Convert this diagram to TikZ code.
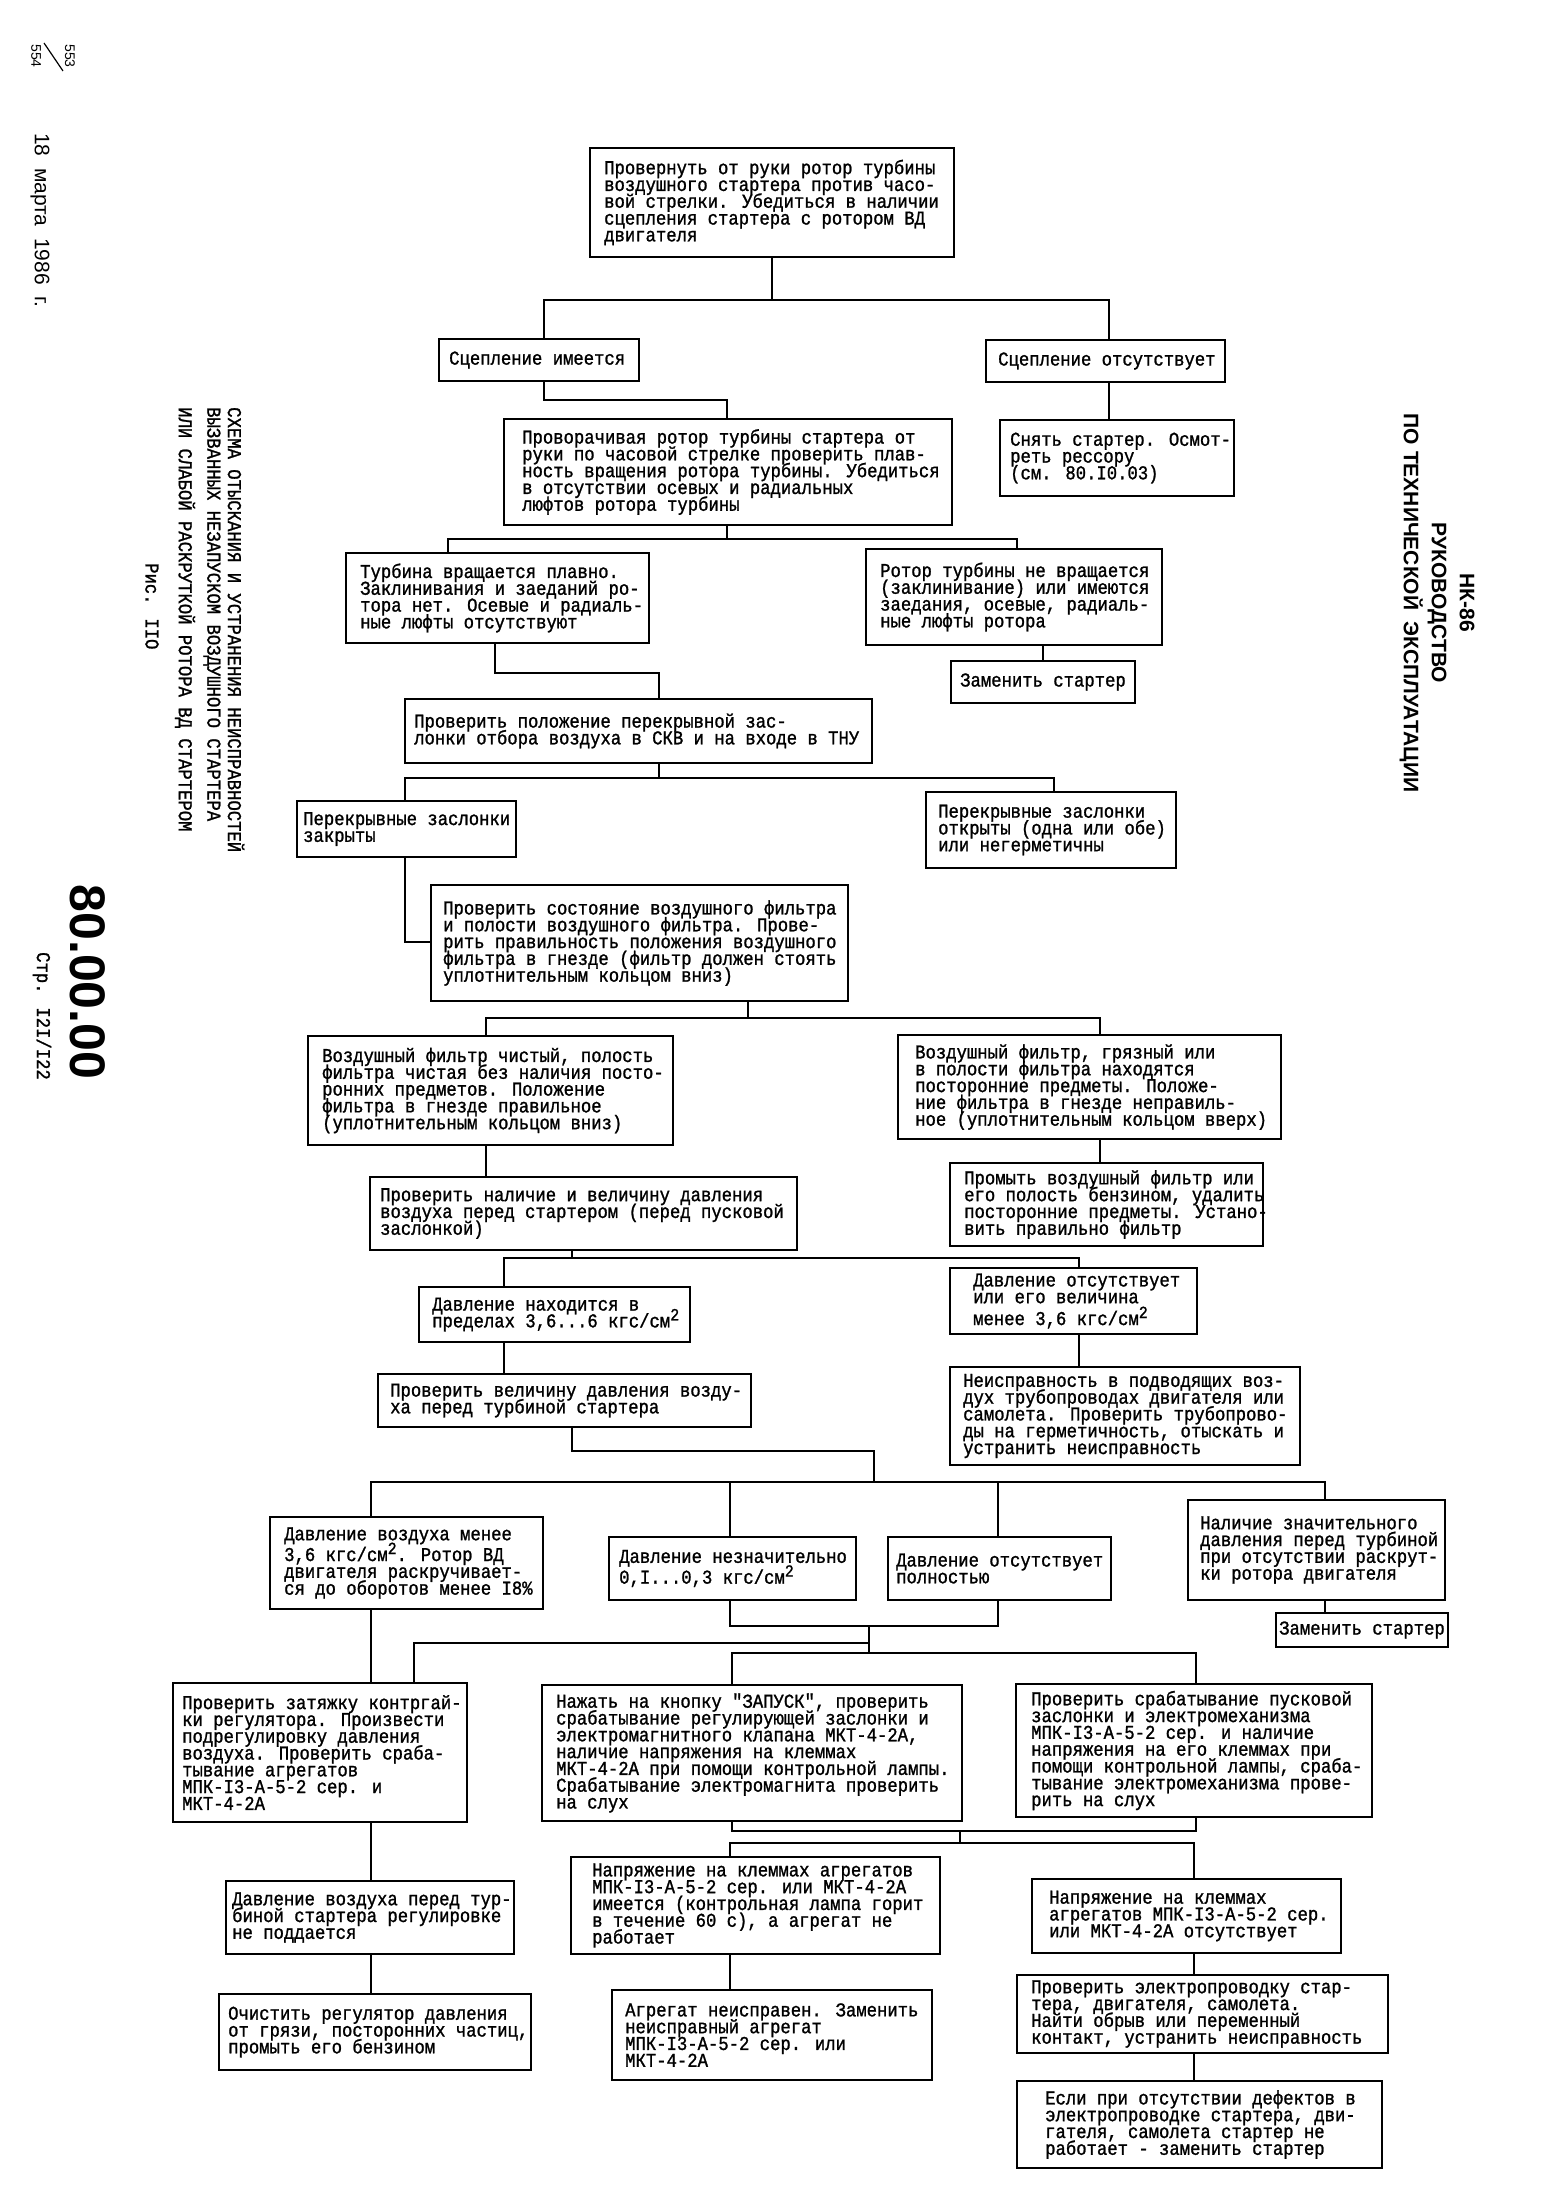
\documentclass[tikz,border=0pt]{standalone}
\usepackage{fontspec}
\setmainfont{Liberation Serif}
\newfontfamily\twfont[FakeStretch=0.88,FakeBold=1.2,Ligatures=TeXOff]{Liberation Mono}
\newfontfamily\hsfont{Liberation Sans}
\newcommand\boxfont{\twfont\fontsize{19.6}{16.8}\selectfont\lineskiplimit=-100pt\relax}
\newcommand\sqr{\raisebox{7pt}{\fontsize{17}{17}\selectfont 2}}
\tikzset{
  bx/.style={draw, line width=2.2pt, outer sep=0pt, inner sep=0pt, anchor=north west},
  tx/.style={align=left, font=\boxfont, inner sep=0pt, anchor=west},
  ln/.style={line width=2pt, line cap=rect},
  side/.style={rotate=-90, inner sep=0pt},
}
\newcommand\mybox[7]{%
  \pgfmathsetmacro\bxw{#4-#2}%
  \pgfmathsetmacro\bxh{#5-#3}%
  \node[bx, minimum width=\bxw pt, minimum height=\bxh pt] (#1) at (#2,#3) {};
  \node[tx] (#1t) at ([xshift=#6pt]#1.west) {#7};}
\begin{document}
\begin{tikzpicture}[x=1pt,y=-1pt]
\useasboundingbox (0,0) rectangle (1553,2207);
\fill[white] (0,0) rectangle (1553,2207);

% ---------- side texts ----------
\node[side, font=\hsfont\fontsize{14}{14}\selectfont] (p553) at (70,56) {553};
\node[side, font=\hsfont\fontsize{14}{14}\selectfont] (p554) at (36,56) {554};
\draw[line width=1.2pt] (44,43) -- (63,71);
\node[side, anchor=west, font=\hsfont\fontsize{21}{21}\selectfont] (date) at (40,133) {18\ \ марта\ \ 1986\ \ г.};
\node[side, anchor=west, font=\boxfont] (cap1) at (236,407) {СХЕМА ОТЫСКАНИЯ И УСТРАНЕНИЯ НЕИСПРАВНОСТЕЙ};
\node[side, anchor=west, font=\boxfont] (cap2) at (212,407) {ВЫЗВАННЫХ НЕЗАПУСКОМ ВОЗДУШНОГО СТАРТЕРА};
\node[side, anchor=west, font=\boxfont] (cap3) at (185,407) {ИЛИ СЛАБОЙ РАСКРУТКОЙ РОТОРА ВД СТАРТЕРОМ};
\node[side, anchor=west, font=\boxfont] (fig) at (152,563) {Рис. IIO};
\node[side, font=\hsfont\bfseries\fontsize{50}{50}\selectfont] (num) at (88,982) {80.00.00};
\node[side, font=\boxfont] (page) at (42,1016) {Стр. I2I/I22};
\node[side, align=center, font=\hsfont\bfseries\fontsize{21}{28}\selectfont] (head) at (1437,603)
  {НК-86\\РУКОВОДСТВО\\ПО ТЕХНИЧЕСКОЙ\ \ ЭКСПЛУАТАЦИИ};

% ---------- boxes ----------
\mybox{T1}{590}{148}{954}{257}{14}{Провернуть от руки ротор турбины\\воздушного стартера против часо-\\вой стрелки. Убедиться в наличии\\сцепления стартера с ротором ВД\\двигателя}
\mybox{A1}{439}{339}{639}{381}{10}{Сцепление имеется}
\mybox{A2}{986}{340}{1225}{382}{12}{Сцепление отсутствует}
\mybox{B1}{504}{419}{952}{525}{18}{Проворачивая ротор турбины стартера от\\руки по часовой стрелке проверить плав-\\ность вращения ротора турбины. Убедиться\\в отсутствии осевых и радиальных\\люфтов ротора турбины}
\mybox{C2}{1000}{420}{1234}{496}{10}{Снять стартер. Осмот-\\реть рессору\\(см. 80.I0.03)}
\mybox{B2L}{346}{553}{649}{643}{14}{Турбина вращается плавно.\\Заклинивания и заеданий ро-\\тора нет. Осевые и радиаль-\\ные люфты отсутствуют}
\mybox{B2R}{866}{549}{1162}{645}{14}{Ротор турбины не вращается\\(заклинивание) или имеются\\заедания, осевые, радиаль-\\ные люфты ротора}
\mybox{Z1}{951}{661}{1135}{703}{9}{Заменить стартер}
\mybox{D1}{405}{699}{872}{763}{9}{Проверить положение перекрывной зас-\\лонки отбора воздуха в СКВ и на входе в ТНУ}
\mybox{E1}{297}{801}{516}{857}{6}{Перекрывные заслонки\\закрыты}
\mybox{E2}{926}{792}{1176}{868}{12}{Перекрывные заслонки\\открыты (одна или обе)\\или негерметичны}
\mybox{D2}{431}{885}{848}{1001}{12}{Проверить состояние воздушного фильтра\\и полости воздушного фильтра. Прове-\\рить правильность положения воздушного\\фильтра в гнезде (фильтр должен стоять\\уплотнительным кольцом вниз)}
\mybox{F1}{308}{1036}{673}{1145}{14}{Воздушный фильтр чистый, полость\\фильтра чистая без наличия посто-\\ронних предметов. Положение\\фильтра в гнезде правильное\\(уплотнительным кольцом вниз)}
\mybox{F2}{898}{1035}{1281}{1139}{17}{Воздушный фильтр, грязный или\\в полости фильтра находятся\\посторонние предметы. Положе-\\ние фильтра в гнезде неправиль-\\ное (уплотнительным кольцом вверх)}
\mybox{G1}{370}{1177}{797}{1250}{10}{Проверить наличие и величину давления\\воздуха перед стартером (перед пусковой\\заслонкой)}
\mybox{G2}{950}{1163}{1263}{1246}{14}{Промыть воздушный фильтр или\\его полость бензином, удалить\\посторонние предметы. Устано-\\вить правильно фильтр}
\mybox{H1}{419}{1287}{690}{1342}{13}{Давление находится в\\пределах 3,6...6 кгс/см\sqr}
\mybox{H2}{950}{1268}{1197}{1334}{23}{Давление отсутствует\\или его величина\\[5pt]менее 3,6 кгс/см\sqr}
\mybox{I1}{378}{1374}{751}{1427}{12}{Проверить величину давления возду-\\ха перед турбиной стартера}
\mybox{I2}{950}{1367}{1300}{1465}{13}{Неисправность в подводящих воз-\\дух трубопроводах двигателя или\\самолета. Проверить трубопрово-\\ды на герметичность, отыскать и\\устранить неисправность}
\mybox{J1}{270}{1517}{543}{1609}{14}{Давление воздуха менее\\[4pt]3,6 кгс/см\sqr. Ротор ВД\\двигателя раскручивает-\\ся до оборотов менее I8\%}
\mybox{J2}{609}{1537}{856}{1600}{10}{Давление незначительно\\[4pt]0,I...0,3 кгс/см\sqr}
\mybox{J3}{888}{1537}{1111}{1600}{8}{Давление отсутствует\\полностью}
\mybox{J4}{1188}{1500}{1445}{1600}{12}{Наличие значительного\\давления перед турбиной\\при отсутствии раскрут-\\ки ротора двигателя}
\mybox{Z2}{1276}{1613}{1448}{1647}{3}{Заменить стартер}
\mybox{K1}{173}{1683}{467}{1822}{9}{Проверить затяжку контргай-\\ки регулятора. Произвести\\подрегулировку давления\\воздуха. Проверить сраба-\\тывание агрегатов\\МПК-I3-А-5-2 сер. и\\МКТ-4-2А}
\mybox{K2}{542}{1685}{962}{1821}{14}{Нажать на кнопку "ЗАПУСК", проверить\\срабатывание регулирующей заслонки и\\электромагнитного клапана МКТ-4-2А,\\наличие напряжения на клеммах\\МКТ-4-2А при помощи контрольной лампы.\\Срабатывание электромагнита проверить\\на слух}
\mybox{K3}{1016}{1684}{1372}{1817}{15}{Проверить срабатывание пусковой\\заслонки и электромеханизма\\МПК-I3-А-5-2 сер. и наличие\\напряжения на его клеммах при\\помощи контрольной лампы, сраба-\\тывание электромеханизма прове-\\рить на слух}
\mybox{L1}{226}{1881}{514}{1954}{6}{Давление воздуха перед тур-\\биной стартера регулировке\\не поддается}
\mybox{L2}{571}{1857}{940}{1954}{21}{Напряжение на клеммах агрегатов\\МПК-I3-А-5-2 сер. или МКТ-4-2А\\имеется (контрольная лампа горит\\в течение 60 с), а агрегат не\\работает}
\mybox{L3}{1032}{1879}{1341}{1953}{17}{Напряжение на клеммах\\агрегатов МПК-I3-А-5-2 сер.\\или МКТ-4-2А отсутствует}
\mybox{M1}{219}{1994}{531}{2070}{9}{Очистить регулятор давления\\от грязи, посторонних частиц,\\промыть его бензином}
\mybox{M2}{612}{1990}{932}{2080}{13}{Агрегат неисправен. Заменить\\неисправный агрегат\\МПК-I3-А-5-2 сер. или\\МКТ-4-2А}
\mybox{M3}{1017}{1975}{1388}{2053}{14}{Проверить электропроводку стар-\\тера, двигателя, самолета.\\Найти обрыв или переменный\\контакт, устранить неисправность}
\mybox{N3}{1017}{2081}{1382}{2168}{28}{Если при отсутствии дефектов в\\электропроводке стартера, дви-\\гателя, самолета стартер не\\работает - заменить стартер}

% ---------- connector points ----------
\coordinate (b1) at (772,300); \coordinate (b1l) at (544,300); \coordinate (b1r) at (1109,300);
\coordinate (k1a) at (544,400); \coordinate (k1b) at (727,400);
\coordinate (b2) at (727,539); \coordinate (b2l) at (448,539); \coordinate (b2r) at (1017,539);
\coordinate (k2a) at (495,673); \coordinate (k2b) at (659,673);
\coordinate (b3) at (659,778); \coordinate (b3l) at (405,778); \coordinate (b3r) at (1054,778);
\coordinate (k3) at (405,942);
\coordinate (b4) at (748,1018); \coordinate (b4l) at (486,1018); \coordinate (b4r) at (1100,1018);
\coordinate (b5) at (572,1258); \coordinate (b5l) at (504,1258); \coordinate (b5r) at (1079,1258);
\coordinate (k4a) at (572,1451); \coordinate (k4b) at (874,1451);
\coordinate (b6l) at (371,1482); \coordinate (b6r) at (1325,1482);
\coordinate (b6a) at (730,1482); \coordinate (b6b) at (998,1482);
\coordinate (j1) at (730,1626); \coordinate (j2) at (998,1626); \coordinate (j3) at (869,1626);
\coordinate (j4) at (869,1643); \coordinate (j5) at (414,1643);
\coordinate (b7) at (869,1653); \coordinate (b7l) at (732,1653); \coordinate (b7r) at (1196,1653);
\coordinate (b8) at (960,1831); \coordinate (b8l) at (732,1831); \coordinate (b8r) at (1196,1831);
\coordinate (b9) at (960,1843); \coordinate (b9l) at (730,1843); \coordinate (b9r) at (1194,1843);

% ---------- connectors ----------
\draw[ln] (T1.south -| b1) -- (b1);
\draw[ln] (A1.north -| b1l) -- (b1l) -- (b1r) -- (A2.north -| b1r);
\draw[ln] (A1.south -| k1a) -- (k1a) -- (k1b) -- (B1.north -| k1b);
\draw[ln] (A2.south -| b1r) -- (C2.north -| b1r);
\draw[ln] (B1.south -| b2) -- (b2);
\draw[ln] (B2L.north -| b2l) -- (b2l) -- (b2r) -- (B2R.north -| b2r);
\draw[ln] (B2R.south -| Z1.north) -- (Z1.north);
\draw[ln] (B2L.south -| k2a) -- (k2a) -- (k2b) -- (D1.north -| k2b);
\draw[ln] (D1.south -| b3) -- (b3);
\draw[ln] (E1.north -| b3l) -- (b3l) -- (b3r) -- (E2.north -| b3r);
\draw[ln] (E1.south -| k3) -- (k3) -- (D2.west |- k3);
\draw[ln] (D2.south -| b4) -- (b4);
\draw[ln] (F1.north -| b4l) -- (b4l) -- (b4r) -- (F2.north -| b4r);
\draw[ln] (F1.south -| b4l) -- (G1.north -| b4l);
\draw[ln] (F2.south -| b4r) -- (G2.north -| b4r);
\draw[ln] (G1.south -| b5) -- (b5);
\draw[ln] (H1.north -| b5l) -- (b5l) -- (b5r) -- (H2.north -| b5r);
\draw[ln] (H1.south -| b5l) -- (I1.north -| b5l);
\draw[ln] (H2.south -| b5r) -- (I2.north -| b5r);
\draw[ln] (I1.south -| k4a) -- (k4a) -- (k4b) -- (k4b |- b6l);
\draw[ln] (J1.north -| b6l) -- (b6l) -- (b6r) -- (J4.north -| b6r);
\draw[ln] (b6a) -- (J2.north -| b6a);
\draw[ln] (b6b) -- (J3.north -| b6b);
\draw[ln] (J4.south -| b6r) -- (Z2.north -| b6r);
\draw[ln] (J1.south -| b6l) -- (K1.north -| b6l);
\draw[ln] (J2.south -| j1) -- (j1) -- (j2) -- (J3.south -| j2);
\draw[ln] (j3) -- (b7);
\draw[ln] (j4) -- (j5) -- (K1.north -| j5);
\draw[ln] (K2.north -| b7l) -- (b7l) -- (b7r) -- (K3.north -| b7r);
\draw[ln] (K1.south -| b6l) -- (L1.north -| b6l);
\draw[ln] (K2.south -| b8l) -- (b8l) -- (b8r) -- (K3.south -| b8r);
\draw[ln] (b8) -- (b9);
\draw[ln] (L2.north -| b9l) -- (b9l) -- (b9r) -- (L3.north -| b9r);
\draw[ln] (L1.south -| b6l) -- (M1.north -| b6l);
\draw[ln] (L2.south -| b9l) -- (M2.north -| b9l);
\draw[ln] (L3.south -| b9r) -- (M3.north -| b9r);
\draw[ln] (M3.south -| b9r) -- (N3.north -| b9r);
\end{tikzpicture}
\end{document}
